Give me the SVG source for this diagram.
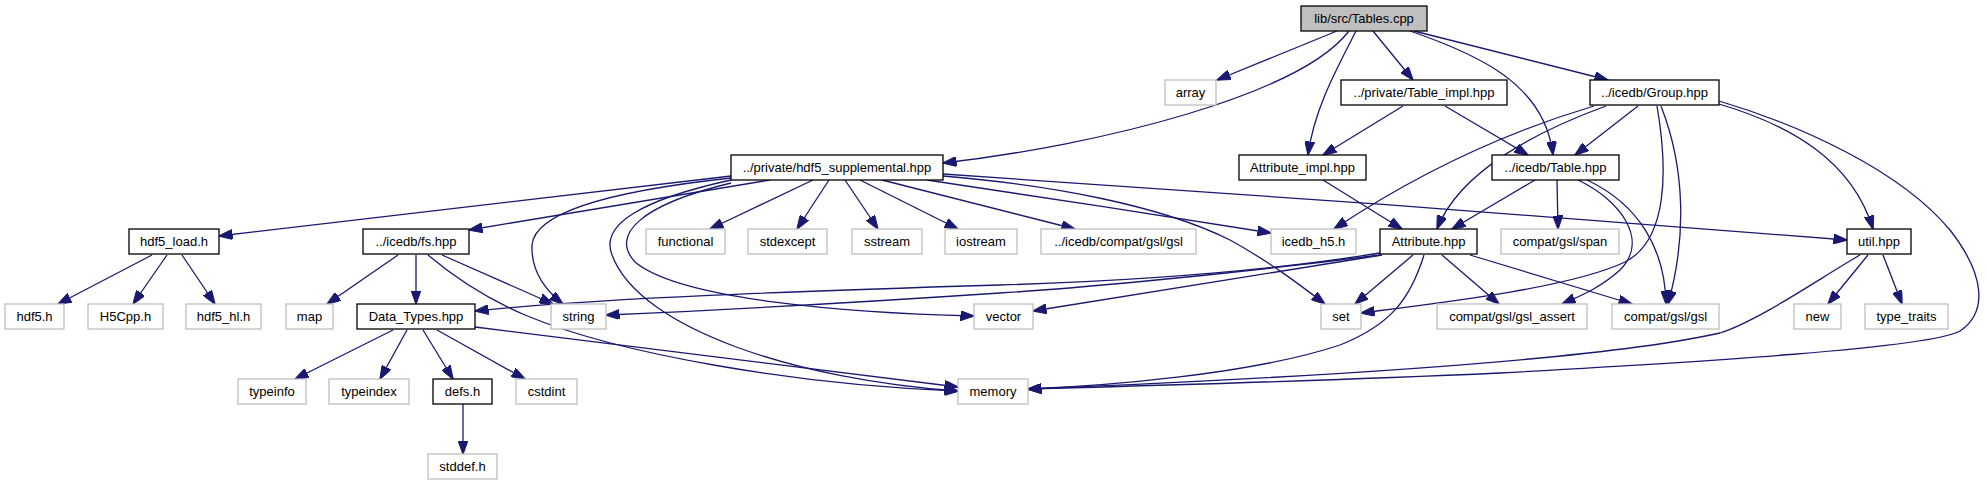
<svg xmlns="http://www.w3.org/2000/svg" width="1987" height="485" viewBox="0 0 1987 485">
<defs>
<style>
.n rect{fill:#fff;stroke:#000;stroke-width:1.3}
.u rect{fill:#fff;stroke:#bfbfbf;stroke-width:1.3}
.n text,.u text{font-family:"Liberation Sans",Arial,sans-serif;font-size:13px;text-anchor:middle;fill:#000}
#edges path{fill:none;stroke:#191970;stroke-width:1.3;marker-end:url(#a)}
</style>
<marker id="a" viewBox="0 0 14 10" markerWidth="14" markerHeight="10" refX="13.5" refY="5" orient="auto" markerUnits="userSpaceOnUse"><path d="M0,0L14,5L0,10z" fill="#191970" stroke="#191970" stroke-width="1"/></marker>
</defs>
<rect width="1987" height="485" fill="#fff"/>
<g id="edges">
<path d="M1337,31 L1217,80"/>
<path d="M1349,31 C1300,95 1100,145 943,163"/>
<path d="M1356,31 C1336,70 1314,110 1308,155"/>
<path d="M1373,31 L1413,80"/>
<path d="M1410,31 C1480,55 1545,85 1553,155"/>
<path d="M1414,31 L1608,80"/>
<path d="M1403,106 L1323,155"/>
<path d="M1445,106 L1528,155"/>
<path d="M1594,106 C1520,128 1430,165 1334,229"/>
<path d="M1606,106 C1540,130 1460,170 1437,229"/>
<path d="M1638,106 L1575,155"/>
<path d="M1657,106 C1668,170 1668,240 1625,262 C1570,288 1440,303 1361,313"/>
<path d="M1661,106 C1686,170 1686,240 1668,304"/>
<path d="M1719,104 C1790,125 1852,160 1873,229"/>
<path d="M1719,101 C1800,125 1900,170 1950,230 C1985,275 1988,312 1960,331 C1930,348 1700,362 1500,373 C1300,382 1100,387 1028,389"/>
<path d="M1535,180 L1452,229"/>
<path d="M1557,180 L1558,229"/>
<path d="M1578,180 C1620,200 1650,240 1620,270 C1600,288 1580,296 1562,304"/>
<path d="M1587,180 C1640,205 1665,250 1666,304"/>
<path d="M1323,180 L1402,229"/>
<path d="M731,176 L219,236"/>
<path d="M770,180 L469,230"/>
<path d="M731,178 C620,190 535,210 532,245 C531,270 545,290 563,304"/>
<path d="M731,183 C640,205 610,235 635,262 C680,300 850,313 974,316"/>
<path d="M731,180 C640,200 600,225 612,255 C640,330 800,380 958,391"/>
<path d="M813,180 L710,229"/>
<path d="M829,180 L797,229"/>
<path d="M845,180 L878,229"/>
<path d="M860,180 L958,229"/>
<path d="M882,180 L1075,229"/>
<path d="M927,180 C1050,198 1150,214 1271,233"/>
<path d="M943,176 C1050,185 1160,205 1230,240 C1270,262 1300,285 1325,304"/>
<path d="M943,174 C1200,190 1600,220 1847,240"/>
<path d="M152,255 L58,304"/>
<path d="M167,255 L133,304"/>
<path d="M182,255 L215,304"/>
<path d="M398,255 L327,304"/>
<path d="M416,255 L416,304"/>
<path d="M442,255 L553,304"/>
<path d="M428,255 C460,282 490,300 525,315 C620,355 800,385 958,391"/>
<path d="M393,330 L295,379"/>
<path d="M407,330 L380,379"/>
<path d="M423,330 L453,379"/>
<path d="M437,330 L525,379"/>
<path d="M475,327 L958,387"/>
<path d="M463,404 L463,454"/>
<path d="M1380,253 C1250,274 1100,282 1000,285 C800,291 600,298 475,311"/>
<path d="M1380,255 C1200,278 1050,290 1000,293 C850,303 700,311 606,315"/>
<path d="M1382,255 L1033,311"/>
<path d="M1413,255 L1355,304"/>
<path d="M1424,255 C1410,300 1390,325 1340,345 C1250,375 1100,386 1028,389"/>
<path d="M1442,255 L1499,304"/>
<path d="M1470,255 L1632,304"/>
<path d="M1860,255 C1820,278 1760,320 1720,333 C1600,360 1300,378 1028,389"/>
<path d="M1868,255 L1828,304"/>
<path d="M1883,255 L1902,304"/>
</g>
<g id="n_tables" class="n"><rect x="1301" y="6" width="126" height="25" style="fill:#bfbfbf"/><text x="1364" y="23">lib/src/Tables.cpp</text></g>
<g id="n_array" class="u"><rect x="1165" y="80" width="51" height="25"/><text x="1190.5" y="97">array</text></g>
<g id="n_table_impl" class="n"><rect x="1341" y="80" width="166" height="25"/><text x="1424" y="97">../private/Table_impl.hpp</text></g>
<g id="n_group" class="n"><rect x="1590" y="80" width="129" height="25"/><text x="1654.5" y="97">../icedb/Group.hpp</text></g>
<g id="n_hdf5_supp" class="n"><rect x="731" y="155" width="212" height="25"/><text x="837" y="172">../private/hdf5_supplemental.hpp</text></g>
<g id="n_attr_impl" class="n"><rect x="1239" y="155" width="127" height="25"/><text x="1302.5" y="172">Attribute_impl.hpp</text></g>
<g id="n_table" class="n"><rect x="1492" y="155" width="127" height="25"/><text x="1555.5" y="172">../icedb/Table.hpp</text></g>
<g id="n_hdf5_load" class="n"><rect x="129" y="229" width="90" height="25"/><text x="174" y="246">hdf5_load.h</text></g>
<g id="n_fs" class="n"><rect x="363" y="229" width="106" height="25"/><text x="416" y="246">../icedb/fs.hpp</text></g>
<g id="n_functional" class="u"><rect x="646" y="229" width="79" height="25"/><text x="685.5" y="246">functional</text></g>
<g id="n_stdexcept" class="u"><rect x="748" y="229" width="79" height="25"/><text x="787.5" y="246">stdexcept</text></g>
<g id="n_sstream" class="u"><rect x="852" y="229" width="70" height="25"/><text x="887" y="246">sstream</text></g>
<g id="n_iostream" class="u"><rect x="945" y="229" width="72" height="25"/><text x="981" y="246">iostream</text></g>
<g id="n_icgsl" class="u"><rect x="1041" y="229" width="155" height="25"/><text x="1118.5" y="246">../icedb/compat/gsl/gsl</text></g>
<g id="n_icedb_h5" class="u"><rect x="1271" y="229" width="85" height="25"/><text x="1313.5" y="246">icedb_h5.h</text></g>
<g id="n_attribute" class="n"><rect x="1380" y="229" width="97" height="25"/><text x="1428.5" y="246">Attribute.hpp</text></g>
<g id="n_span" class="u"><rect x="1501" y="229" width="118" height="25"/><text x="1560" y="246">compat/gsl/span</text></g>
<g id="n_util" class="n"><rect x="1847" y="229" width="64" height="25"/><text x="1879" y="246">util.hpp</text></g>
<g id="n_hdf5h" class="u"><rect x="5" y="304" width="59" height="25"/><text x="34.5" y="321">hdf5.h</text></g>
<g id="n_h5cpp" class="u"><rect x="88" y="304" width="75" height="25"/><text x="125.5" y="321">H5Cpp.h</text></g>
<g id="n_hdf5hl" class="u"><rect x="186" y="304" width="75" height="25"/><text x="223.5" y="321">hdf5_hl.h</text></g>
<g id="n_map" class="u"><rect x="286" y="304" width="47" height="25"/><text x="309.5" y="321">map</text></g>
<g id="n_data_types" class="n"><rect x="357" y="304" width="118" height="25"/><text x="416" y="321">Data_Types.hpp</text></g>
<g id="n_string" class="u"><rect x="551" y="304" width="55" height="25"/><text x="578.5" y="321">string</text></g>
<g id="n_vector" class="u"><rect x="974" y="304" width="59" height="25"/><text x="1003.5" y="321">vector</text></g>
<g id="n_set" class="u"><rect x="1321" y="304" width="40" height="25"/><text x="1341" y="321">set</text></g>
<g id="n_gsl_assert" class="u"><rect x="1437" y="304" width="150" height="25"/><text x="1512" y="321">compat/gsl/gsl_assert</text></g>
<g id="n_cgsl" class="u"><rect x="1612" y="304" width="107" height="25"/><text x="1665.5" y="321">compat/gsl/gsl</text></g>
<g id="n_new" class="u"><rect x="1794" y="304" width="47" height="25"/><text x="1817.5" y="321">new</text></g>
<g id="n_type_traits" class="u"><rect x="1865" y="304" width="83" height="25"/><text x="1906.5" y="321">type_traits</text></g>
<g id="n_typeinfo" class="u"><rect x="238" y="379" width="68" height="25"/><text x="272" y="396">typeinfo</text></g>
<g id="n_typeindex" class="u"><rect x="329" y="379" width="80" height="25"/><text x="369" y="396">typeindex</text></g>
<g id="n_defs" class="n"><rect x="433" y="379" width="59" height="25"/><text x="462.5" y="396">defs.h</text></g>
<g id="n_cstdint" class="u"><rect x="516" y="379" width="61" height="25"/><text x="546.5" y="396">cstdint</text></g>
<g id="n_memory" class="u"><rect x="958" y="379" width="70" height="25"/><text x="993" y="396">memory</text></g>
<g id="n_stddef" class="u"><rect x="428" y="454" width="69" height="25"/><text x="462.5" y="471">stddef.h</text></g>
</svg>
